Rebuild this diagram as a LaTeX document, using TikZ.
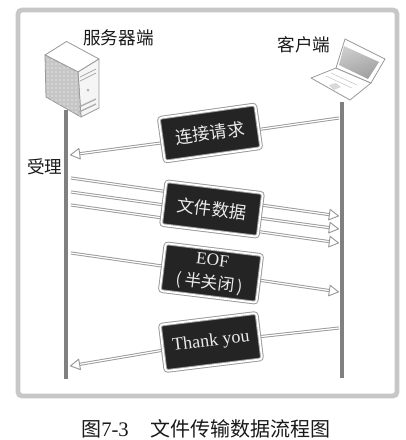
\documentclass[tikz,border=0pt]{standalone}
\usepackage{fontspec}
\setmainfont{Liberation Serif}
\newfontfamily\cjk{Noto Sans CJK SC}
\usetikzlibrary{arrows.meta,backgrounds,patterns}
\definecolor{txt}{gray}{0.1}
\definecolor{framegray}{gray}{0.78}
\definecolor{lifegray}{gray}{0.5}
\definecolor{edgegray}{gray}{0.6}
\tikzset{
  lifebar/.style={draw=lifegray,line width=2.6pt},
  msg/.style={draw=edgegray,double=white,double distance=0.9pt,line width=0.7pt},
  msghead/.style={msg,-{Triangle[open,fill=white,length=8pt,width=9pt,line width=0.7pt,color=edgegray,round]}},
  board/.style={draw=edgegray,double=white,double distance=1.4pt,line width=0.7pt,fill=black!86,
     rounded corners=2pt,minimum width=73pt,minimum height=33pt,inner sep=0pt,text=white!92!black,
     align=center,font=\cjk\fontsize{13pt}{16pt}\selectfont},
  label/.style={text=txt,font=\cjk\fontsize{13.2pt}{16pt}\selectfont,inner sep=0pt},
  capt/.style={text=txt,font=\cjk\fontsize{15pt}{18pt}\selectfont,inner sep=0pt},
  device/.style={draw=edgegray,fill=white,line width=0.6pt,line join=round}
}
\begin{document}
\begin{tikzpicture}[x=0.75pt,y=-0.75pt]
\useasboundingbox (0,0) rectangle (406,440);

% named ends on the two lifelines
\coordinate (sTop) at (66,110);  \coordinate (sBot) at (66,379);
\coordinate (cTop) at (342,102); \coordinate (cBot) at (342,378);
\coordinate (c1) at (339,118);   \coordinate (s1) at (70,155);
\coordinate (s2) at (71,178);    \coordinate (c2) at (339,216);
\coordinate (s3) at (71,192);    \coordinate (c3) at (339,229);
\coordinate (s4) at (71,205);    \coordinate (c4) at (339,243);
\coordinate (s5) at (71,253);    \coordinate (c5) at (339,292);
\coordinate (c6) at (339,328);   \coordinate (s6) at (70,366);

% frame
\draw[framegray,line width=3.6pt,rounded corners=3pt] (18,10) rectangle (397,396);

% lifelines
\draw[lifebar] (sTop) -- (sBot);
\draw[lifebar] (cTop) -- (cBot);

% boards
\node[board,rotate=8] (req) at (210,133) {连接请求};
\node[board,rotate=-7] (data) at (212,209) {文件数据};
\node[board,rotate=-7,minimum height=36pt] (eof) at (211,273)
   {{\rmfamily\fontsize{13pt}{14pt}\selectfont EOF}\\[1.5pt]\fontsize{12.5pt}{14pt}\selectfont(\,半关闭\,)};
\node[board,rotate=7,minimum height=35pt] (thanks) at (211,342)
   {\rmfamily\fontsize{13.5pt}{16pt}\selectfont Thank you};

% connectors run behind the boards
\begin{scope}[on background layer]
  \draw[msg] (c1) -- ([yshift=-2.6pt]req.center);
  \draw[msghead] ([yshift=-2.6pt]req.center) -- (s1);
  \draw[msg] (s2) -- ([yshift=8.2pt]data.center);
  \draw[msghead] ([yshift=8.2pt]data.center) -- (c2);
  \draw[msg] (s3) -- ([yshift=-1.9pt]data.center);
  \draw[msghead] ([yshift=-1.9pt]data.center) -- (c3);
  \draw[msg] (s4) -- ([yshift=-12pt]data.center);
  \draw[msghead] ([yshift=-12pt]data.center) -- (c4);
  \draw[msg] (s5) -- (eof.center);
  \draw[msghead] (eof.center) -- (c5);
  \draw[msg] (c6) -- (thanks.center);
  \draw[msghead] (thanks.center) -- (s6);
\end{scope}

% server icon
\path[device] (45,55) -- (66.5,41.5) -- (99,59) -- (78,72) -- cycle;
\path[device,fill=gray!8] (78,72) -- (99,59) -- (99,108) -- (81,117) -- cycle;
\path[device,fill=gray!45] (45,55) -- (78,72) -- (81,117) -- (46,97) -- cycle;
\path[pattern=dots,pattern color=white] (45,55) -- (78,72) -- (81,117) -- (46,97) -- cycle;
\draw[gray!75,line width=0.5pt] (80,77) -- (96,69) (80,81) -- (96,73);
\fill[gray!60] (88,90) circle (1.5);
\draw[gray!65,line width=1pt] (79,107) -- (96,99) (79,112) -- (96,104);

% laptop icon
\path[device] (311,78) -- (336,68) -- (371,83) -- (350,100) -- cycle;
\path[device] (336,68) -- (345,39) -- (385,59) -- (371,83) -- cycle;
\path[left color=gray!40,right color=gray!75,shading angle=20] (344,46) -- (379,62) -- (368,79) -- (339,65) -- cycle;
\fill[gray!30] (329,85) -- (336,83) -- (341,87) -- (334,90) -- cycle;
\draw[gray!45,line width=0.4pt] (326,76) -- (352,88) (331,73) -- (357,85);

% labels
\node[label] (srv) at (118.5,38) {服务器端};
\node[label] (cli) at (304,45) {客户端};
\node[label] (acc) at (45,167) {受理};
\node[capt,anchor=west] (fig) at (81,429) {图{\rmfamily\fontsize{15.5pt}{18pt}\selectfont 7-3}};
\node[capt,anchor=west] (cap) at (150,429) {文件传输数据流程图};
\end{tikzpicture}
\end{document}
